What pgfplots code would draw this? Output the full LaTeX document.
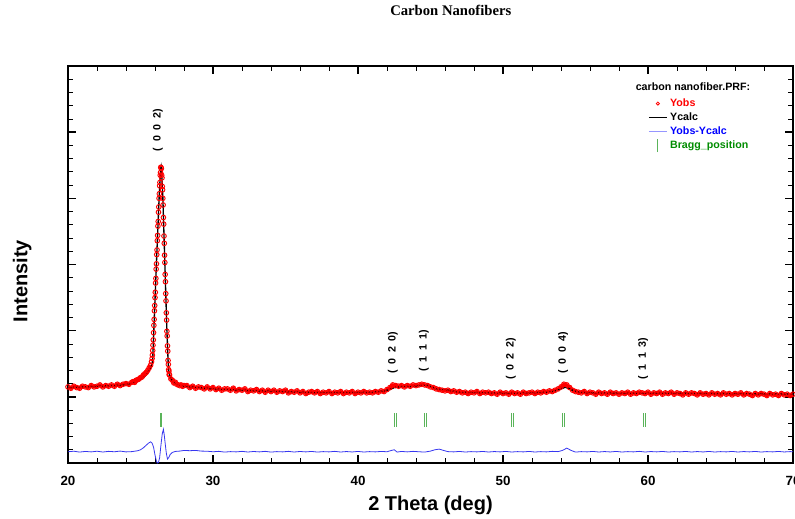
\documentclass[border=0pt]{standalone}
\usepackage{fontspec}
\setmainfont{Liberation Sans}
\newfontfamily\serifb{Liberation Serif}
\usepackage{pgfplots}
\usepackage{pgfplotstable}
\pgfplotsset{compat=1.18}

\definecolor{difblue}{RGB}{55,55,240}
\definecolor{legblue}{RGB}{150,150,255}
\definecolor{braggreen}{RGB}{90,180,90}
\definecolor{txtgreen}{RGB}{0,140,0}
\newcommand{\hkl}[3]{(\hspace{4.2pt}#1\hspace{4.2pt}#2\hspace{4.2pt}#3)}

% Yobs, left background
\pgfplotstableread{
x y
20.0 1.15
20.2 1.13
20.4 1.16
20.6 1.14
20.8 1.13
21.0 1.16
21.2 1.15
21.4 1.14
21.6 1.17
21.8 1.15
22.0 1.16
22.2 1.18
22.4 1.15
22.6 1.17
22.8 1.16
23.0 1.18
23.2 1.16
23.4 1.19
23.6 1.17
23.8 1.19
24.0 1.20
24.2 1.19
24.4 1.22
24.5 1.23
24.6 1.22
24.7 1.25
24.8 1.26
24.9 1.27
25.0 1.29
25.1 1.30
25.2 1.33
25.3 1.35
25.4 1.37
25.5 1.40
25.6 1.44
25.7 1.48
}\obsleft

% Yobs, (0 0 2) peak
\pgfplotstableread{
x y
25.76 1.53
25.80 1.58
25.82 1.63
25.84 1.70
25.86 1.78
25.88 1.86
25.90 1.97
25.92 2.08
25.94 2.17
25.96 2.30
25.98 2.38
26.00 2.50
26.02 2.58
26.04 2.72
26.06 2.79
26.08 2.93
26.10 3.01
26.12 3.15
26.14 3.22
26.16 3.36
26.18 3.44
26.20 3.58
26.22 3.65
26.24 3.79
26.26 3.87
26.28 4.00
26.30 4.07
26.32 4.19
26.34 4.24
26.36 4.35
26.38 4.39
26.40 4.47
26.42 4.46
26.44 4.45
26.46 4.35
26.48 4.31
26.50 4.18
26.52 4.13
26.54 4.00
26.56 3.90
26.58 3.71
26.60 3.61
26.62 3.43
26.64 3.32
26.66 3.14
26.68 3.03
26.70 2.85
26.72 2.74
26.74 2.56
26.76 2.45
26.78 2.27
26.80 2.16
26.82 1.99
26.84 1.92
26.86 1.77
26.88 1.69
26.90 1.55
26.92 1.49
26.94 1.41
26.96 1.39
26.98 1.34
}\obspeak

% Yobs, right background
\pgfplotstableread{
x y
27.00 1.33
27.1 1.27
27.2 1.25
27.3 1.21
27.4 1.22
27.5 1.19
27.6 1.18
27.7 1.17
27.8 1.18
27.9 1.16
28.0 1.17
28.2 1.17
28.4 1.14
28.6 1.16
28.8 1.13
29.0 1.15
29.2 1.14
29.4 1.12
29.6 1.15
29.8 1.12
30.0 1.14
30.2 1.11
30.4 1.13
30.6 1.10
30.8 1.12
31.0 1.12
31.2 1.10
31.4 1.13
31.6 1.09
31.8 1.11
32.0 1.10
32.2 1.12
32.4 1.08
32.6 1.10
32.8 1.09
33.0 1.11
33.2 1.08
33.4 1.10
33.6 1.07
33.8 1.10
34.0 1.08
34.2 1.10
34.4 1.07
34.6 1.09
34.8 1.08
35.0 1.10
35.2 1.06
35.4 1.08
35.6 1.07
35.8 1.09
36.0 1.06
36.2 1.08
36.4 1.05
36.6 1.07
36.8 1.08
37.0 1.06
37.2 1.08
37.4 1.05
37.6 1.07
37.8 1.06
38.0 1.08
38.2 1.05
38.4 1.07
38.6 1.06
38.8 1.08
39.0 1.05
39.2 1.07
39.4 1.06
39.6 1.08
39.8 1.05
40.0 1.07
40.2 1.06
40.4 1.08
40.6 1.06
40.8 1.07
41.0 1.06
41.2 1.08
41.4 1.07
41.6 1.09
41.8 1.08
42.0 1.11
42.2 1.14
42.4 1.18
42.6 1.17
42.8 1.16
43.0 1.17
43.2 1.15
43.4 1.17
43.6 1.16
43.8 1.18
44.0 1.17
44.2 1.18
44.4 1.19
44.6 1.18
44.8 1.17
45.0 1.15
45.2 1.14
45.4 1.12
45.6 1.11
45.8 1.10
46.0 1.09
46.2 1.10
46.4 1.08
46.6 1.09
46.8 1.07
47.0 1.08
47.2 1.06
47.4 1.07
47.6 1.05
47.8 1.07
48.0 1.06
48.2 1.08
48.4 1.05
48.6 1.07
48.8 1.06
49.0 1.07
49.2 1.05
49.4 1.06
49.6 1.04
49.8 1.07
50.0 1.05
50.2 1.06
50.4 1.04
50.6 1.07
50.8 1.05
51.0 1.06
51.2 1.04
51.4 1.07
51.6 1.05
51.8 1.06
52.0 1.07
52.2 1.05
52.4 1.07
52.6 1.06
52.8 1.08
53.0 1.07
53.2 1.09
53.4 1.08
53.6 1.10
53.8 1.12
54.0 1.15
54.2 1.19
54.4 1.18
54.6 1.14
54.8 1.10
55.0 1.08
55.2 1.07
55.4 1.06
55.6 1.08
55.8 1.05
56.0 1.07
56.2 1.06
56.4 1.04
56.6 1.07
56.8 1.05
57.0 1.06
57.2 1.04
57.4 1.07
57.6 1.05
57.8 1.06
58.0 1.04
58.2 1.06
58.4 1.05
58.6 1.07
58.8 1.04
59.0 1.06
59.2 1.05
59.4 1.07
59.6 1.06
59.8 1.05
60.0 1.07
60.2 1.04
60.4 1.06
60.6 1.05
60.8 1.07
61.0 1.04
61.2 1.06
61.4 1.05
61.6 1.07
61.8 1.04
62.0 1.06
62.2 1.05
62.4 1.03
62.6 1.06
62.8 1.04
63.0 1.06
63.2 1.05
63.4 1.03
63.6 1.06
63.8 1.04
64.0 1.05
64.2 1.03
64.4 1.06
64.6 1.04
64.8 1.05
65.0 1.03
65.2 1.06
65.4 1.04
65.6 1.05
65.8 1.03
66.0 1.05
66.2 1.04
66.4 1.06
66.6 1.03
66.8 1.05
67.0 1.04
67.2 1.02
67.4 1.05
67.6 1.03
67.8 1.05
68.0 1.04
68.2 1.02
68.4 1.05
68.6 1.03
68.8 1.04
69.0 1.02
69.2 1.05
69.4 1.03
69.6 1.04
69.8 1.02
70.0 1.04
}\obsright

\begin{document}
\begin{tikzpicture}
\begin{axis}[
    at={(0,0)}, anchor=south west,
    scale only axis, width=543.75pt, height=297.75pt,
    xmin=20, xmax=70, ymin=0, ymax=6,
    xtick={20,30,...,70}, ytick={0,1,...,6}, yticklabels={},
    minor x tick num=4, minor y tick num=4,
    tick align=inside, xtick pos=both, ytick pos=both,
    xticklabel pos=bottom,
    major tick length=6pt, minor tick length=3.5pt,
    major tick style={line width=1.2pt, black},
    minor tick style={line width=0.6pt, black},
    axis line style={line width=1.6pt},
    /pgf/number format/assume math mode=true,
    ticklabel style={font=\bfseries\fontsize{10}{11}\selectfont},
    xticklabel style={yshift=-6pt},
    xlabel={2 Theta (deg)}, ylabel={Intensity},
    xlabel style={at={(axis description cs:0.5,-0.106)}, anchor=center,
        font=\bfseries\fontsize{15}{18}\selectfont},
    ylabel style={at={(axis description cs:-0.063,0.458)}, anchor=center,
        font=\bfseries\fontsize{15}{18}\selectfont},
    title={Carbon Nanofibers},
    title style={at={(axis description cs:0.528,1.121)}, anchor=center,
        font=\serifb\bfseries\fontsize{11}{13}\selectfont},
    legend style={draw=none, fill=none, at={(axis description cs:0.80,0.925)},
        anchor=north west, inner sep=0pt, row sep=-0.8pt,
        font=\bfseries\fontsize{8}{9}\selectfont,
        /tikz/every even column/.append style={column sep=20pt}},
    legend cell align=left,
]

% observed: dense background points read as a band
\addplot[red, line width=2.4pt, forget plot] table {\obsleft};
\addplot[red, line width=2.4pt, forget plot] table {\obsright};
\addplot[only marks, mark=o, red, mark size=1.75pt, mark options={line width=0.7pt}, forget plot] table {\obsleft};
\addplot[only marks, mark=o, red, mark size=1.75pt, mark options={line width=0.7pt}, forget plot] table {\obspeak};
\addplot[only marks, mark=o, red, mark size=1.75pt, mark options={line width=0.7pt}, forget plot] table {\obsright};

% calculated
\addplot[black, line width=1pt, forget plot] coordinates {
(20,1.14) (21,1.15) (22,1.16) (23,1.17) (23.8,1.18) (24.3,1.20) (24.7,1.23) (25.0,1.26)
(25.2,1.29) (25.4,1.33) (25.5,1.36) (25.6,1.40) (25.7,1.44) (25.76,1.47) (25.80,1.50)
(25.82,1.53) (25.84,1.56) (25.86,1.67) (25.88,1.79) (25.90,1.90) (25.92,2.01) (25.94,2.13)
(25.96,2.24) (25.98,2.35) (26.00,2.46) (26.02,2.57) (26.04,2.69) (26.06,2.80) (26.08,2.91)
(26.10,3.02) (26.12,3.13) (26.14,3.24) (26.16,3.34) (26.18,3.45) (26.20,3.56) (26.22,3.66)
(26.24,3.77) (26.26,3.88) (26.28,3.98) (26.30,4.09) (26.32,4.17) (26.34,4.25) (26.36,4.33)
(26.38,4.40) (26.40,4.46) (26.42,4.48) (26.44,4.44) (26.46,4.37) (26.48,4.29) (26.50,4.20)
(26.52,4.11) (26.54,4.02) (26.56,3.88) (26.58,3.73) (26.60,3.59) (26.62,3.45) (26.64,3.30)
(26.66,3.16) (26.68,3.01) (26.70,2.87) (26.72,2.72) (26.74,2.58) (26.76,2.43) (26.78,2.29)
(26.80,2.14) (26.82,2.01) (26.84,1.90) (26.86,1.79) (26.88,1.67) (26.90,1.56) (26.92,1.48)
(26.94,1.42) (26.96,1.38) (26.98,1.35) (27.00,1.33) (27.05,1.30) (27.10,1.28) (27.15,1.26)
(27.25,1.23) (27.4,1.20) (27.7,1.17) (28,1.16) (29,1.14) (30,1.12) (31,1.11) (32,1.10)
(33,1.09) (34,1.085) (35,1.08) (36,1.07) (37,1.065) (40,1.065) (41,1.07) (41.8,1.09)
(42.2,1.11) (42.5,1.14) (42.8,1.15) (43.2,1.16) (43.6,1.155) (44,1.165) (44.5,1.175) (44.8,1.175)
(45.1,1.15) (45.4,1.12) (45.7,1.11) (45.9,1.115) (46.2,1.10) (46.6,1.085) (47,1.07) (48,1.065)
(49,1.06) (50,1.055) (51,1.055) (52,1.06) (53,1.07) (53.6,1.09) (54,1.12) (54.3,1.145)
(54.6,1.12) (54.9,1.09) (55.3,1.07) (56,1.06) (58,1.055) (60,1.055) (62,1.053) (64,1.05)
(66,1.047) (68,1.044) (70,1.04)
};

% difference
\addplot[difblue, line width=0.6pt, forget plot] coordinates {
(20,0.17) (20.4,0.178) (20.8,0.165) (21.2,0.175) (21.6,0.168) (22,0.178) (22.4,0.166) (22.8,0.176)
(23.2,0.17) (23.6,0.18) (24,0.168) (24.4,0.172) (24.8,0.185) (25.0,0.20) (25.2,0.23) (25.4,0.27)
(25.55,0.30) (25.7,0.32) (25.8,0.30) (25.9,0.24) (26.0,0.12) (26.1,0.03) (26.16,0.0) (26.24,0.01)
(26.32,0.08) (26.4,0.25) (26.5,0.44) (26.58,0.51) (26.64,0.42) (26.7,0.30) (26.78,0.15) (26.86,0.06)
(26.94,0.08) (27.05,0.13) (27.2,0.16) (27.4,0.175) (27.7,0.18) (28,0.19) (28.4,0.186) (28.8,0.19)
(29.2,0.18) (29.6,0.178) (30,0.17) (30.4,0.176) (30.8,0.165) (31.2,0.172) (31.6,0.168) (32,0.176)
(32.4,0.166) (32.8,0.174) (33.2,0.168) (33.6,0.176) (34,0.165) (34.4,0.172) (34.8,0.168) (35.2,0.176)
(35.6,0.166) (36,0.174) (36.4,0.168) (36.8,0.175) (37.2,0.165) (37.6,0.172) (38,0.168) (38.4,0.176)
(38.8,0.166) (39.2,0.173) (39.6,0.167) (40,0.175) (40.4,0.166) (40.8,0.172) (41.2,0.168) (41.6,0.175)
(42,0.17) (42.3,0.19) (42.5,0.20) (42.7,0.165) (43.0,0.175) (43.4,0.168) (43.8,0.176) (44.2,0.17)
(44.6,0.165) (45.0,0.18) (45.3,0.20) (45.6,0.21) (45.9,0.19) (46.2,0.172) (46.6,0.168) (47,0.175)
(47.4,0.166) (47.8,0.172) (48.2,0.168) (48.6,0.175) (49,0.166) (49.4,0.173) (49.8,0.168) (50.2,0.175)
(50.6,0.166) (51,0.172) (51.4,0.168) (51.8,0.175) (52.2,0.166) (52.6,0.172) (53,0.168) (53.4,0.176)
(53.8,0.172) (54.1,0.19) (54.4,0.225) (54.7,0.19) (55,0.165) (55.4,0.172) (55.8,0.168) (56.2,0.175)
(56.6,0.166) (57,0.173) (57.4,0.167) (57.8,0.175) (58.2,0.166) (58.6,0.172) (59,0.168) (59.4,0.176)
(59.8,0.166) (60.2,0.173) (60.6,0.168) (61,0.175) (61.4,0.166) (61.8,0.172) (62.2,0.168) (62.6,0.175)
(63,0.166) (63.4,0.173) (63.8,0.167) (64.2,0.175) (64.6,0.166) (65,0.172) (65.4,0.168) (65.8,0.175)
(66.2,0.166) (66.6,0.173) (67,0.168) (67.4,0.175) (67.8,0.166) (68.2,0.172) (68.6,0.168) (69,0.175)
(69.4,0.167) (69.8,0.172) (70,0.17)
};

% Bragg positions
\addplot[braggreen, line width=0.6pt, unbounded coords=jump, forget plot] coordinates {
(26.37,0.545) (26.37,0.76) (26.37,nan)
(26.44,0.545) (26.44,0.76) (26.44,nan)
(42.48,0.545) (42.48,0.76) (42.48,nan)
(42.62,0.545) (42.62,0.76) (42.62,nan)
(44.60,0.545) (44.60,0.76) (44.60,nan)
(44.74,0.545) (44.74,0.76) (44.74,nan)
(50.60,0.545) (50.60,0.76) (50.60,nan)
(50.74,0.545) (50.74,0.76) (50.74,nan)
(54.10,0.545) (54.10,0.76) (54.10,nan)
(54.24,0.545) (54.24,0.76) (54.24,nan)
(59.68,0.545) (59.68,0.76) (59.68,nan)
(59.82,0.545) (59.82,0.76)
};

\addlegendimage{legend image code/.code={\draw[red, line width=0.6pt] (6.75pt,0pt) circle (1.2pt);}}
\addlegendentry{\textcolor{red}{Yobs}}
\addlegendimage{legend image code/.code={\draw[black, line width=0.9pt] (0pt,0pt) -- (13.5pt,0pt);}}
\addlegendentry{Ycalc}
\addlegendimage{legend image code/.code={\draw[legblue, line width=0.9pt] (0pt,0pt) -- (13.5pt,0pt);}}
\addlegendentry{\textcolor{blue}{Yobs-Ycalc}}
\addlegendimage{legend image code/.code={\draw[braggreen, line width=0.6pt] (6.75pt,-5pt) -- (6.75pt,5pt);}}
\addlegendentry{\textcolor{txtgreen}{Bragg\_position}}

\node[font=\bfseries\fontsize{8}{9}\selectfont] at (axis description cs:0.862,0.947) {carbon nanofiber.PRF:};

\begin{scope}[every node/.style={rotate=90, font=\bfseries\fontsize{8}{9}\selectfont}]
\node at (axis cs:26.2,5.03) {\hkl002};
\node at (axis cs:42.41,1.67) {\hkl020};
\node at (axis cs:44.55,1.70) {\hkl111};
\node at (axis cs:50.55,1.57) {\hkl022};
\node at (axis cs:54.14,1.67) {\hkl004};
\node at (axis cs:59.66,1.58) {\hkl113};
\end{scope}
\end{axis}
\pgfresetboundingbox
\path[use as bounding box] (-51pt,-41.25pt) rectangle (545.25pt,347.25pt);
\end{tikzpicture}
\end{document}
